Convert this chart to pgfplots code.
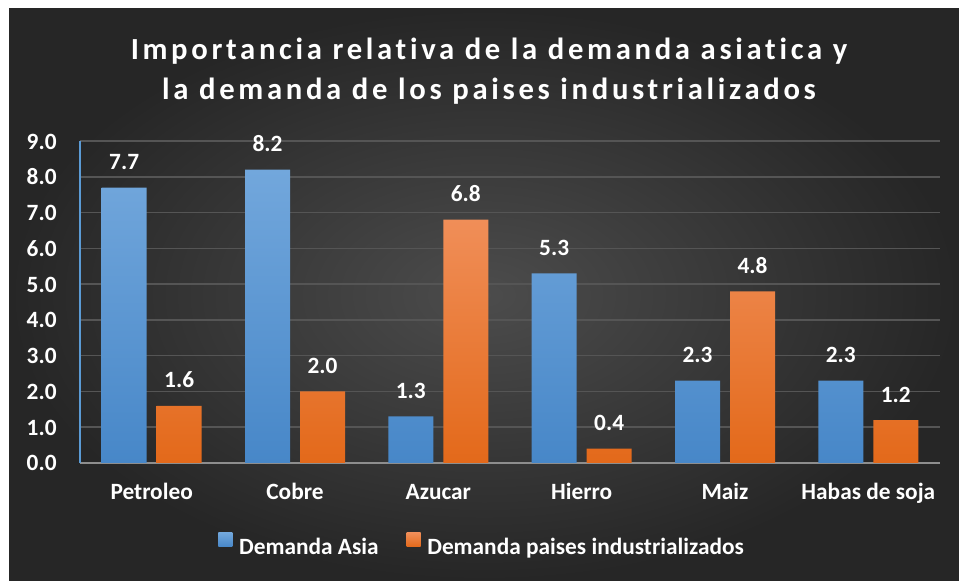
\documentclass[border=0pt]{standalone}
\usepackage{pgfplots}
\pgfplotsset{compat=1.18}
\usepackage{fontspec}
\setmainfont{Carlito}
\newfontfamily\titlefont[LetterSpace=12,Ligatures=NoCommon]{Carlito}
\definecolor{bgin}{HTML}{4C4C4C}
\definecolor{bgout}{HTML}{262626}
\definecolor{bluetop}{HTML}{72A7DC}
\definecolor{bluebot}{HTML}{4787C8}
\definecolor{orgtop}{HTML}{F08E58}
\definecolor{orgbot}{HTML}{E3691A}
\definecolor{yaxis}{HTML}{5B9BD5}
\definecolor{xaxis}{HTML}{8E8E8E}
\definecolor{gridc}{HTML}{555555}
\begin{document}
\begin{tikzpicture}
\useasboundingbox (0,0) rectangle (719.25pt,435.75pt);
\fill[white] (0,0) rectangle (719.25pt,435.75pt);
\shade[inner color=bgin, outer color=bgout] (6.75pt,0) rectangle (719.25pt,429pt);
\node[text=white, font=\titlefont\bfseries\fontsize{23}{30}\selectfont, anchor=base] at (366.75pt,390.75pt) {Importancia relativa de la demanda asiatica y};
\node[text=white, font=\titlefont\bfseries\fontsize{23}{30}\selectfont, anchor=base] at (366.75pt,360.75pt) {la demanda de los paises industrializados};
\begin{axis}[
  at={(60pt,88.5pt)}, anchor=south west,
  scale only axis, width=645pt, height=241.5pt,
  ybar=7.5pt, bar width=33.75pt,
  xmin=-0.5, xmax=5.5, ymin=0, ymax=9,
  xtick={0,1,2,3,4,5},
  xticklabels={Petroleo,Cobre,Azucar,Hierro,Maiz,Habas de soja},
  ytick={0,1,2,3,4,5,6,7,8,9},
  /pgf/number format/assume math mode=true,
  yticklabel={\pgfmathprintnumber[fixed,fixed zerofill,precision=1]{\tick}},
  axis x line*=bottom, axis y line*=left,
  x axis line style={draw=xaxis, line width=1.6pt, -},
  y axis line style={draw=yaxis, line width=1pt, -},
  major tick length=0pt,
  ymajorgrids, major grid style={draw=gridc, line width=1.1pt},
  tick label style={text=white, font=\bfseries\fontsize{17.5}{20}\selectfont},
  xticklabel style={anchor=base, yshift=-27.75pt},
  yticklabel style={anchor=base east, yshift=-6pt, xshift=-14pt},
  nodes near coords={\pgfmathprintnumber[fixed,fixed zerofill,precision=1]{\pgfplotspointmeta}},
  nodes near coords style={text=white, font=\bfseries\fontsize{17.5}{20}\selectfont, anchor=base, yshift=13.5pt, inner sep=0pt},
  legend style={at={(0.468,-0.258)}, anchor=center, draw=none, fill=none, text=white,
    font=\bfseries\fontsize{17.5}{20}\selectfont, legend columns=2,
    /tikz/every even column/.append style={column sep=19pt}},
  legend image code/.code={\path[#1,draw=none] (0pt,0.5pt) rectangle (10.5pt,11pt); \path (13.5pt,5pt);},
  clip=false,
]
\addplot[draw=none, top color=bluetop, bottom color=bluebot] coordinates {(0,7.7) (1,8.2) (2,1.3) (3,5.3) (4,2.3) (5,2.3)};
\addplot[draw=none, top color=orgtop, bottom color=orgbot] coordinates {(0,1.6) (1,2.0) (2,6.8) (3,0.4) (4,4.8) (5,1.2)};
\legend{Demanda Asia, Demanda paises industrializados}
\end{axis}
\end{tikzpicture}
\end{document}
